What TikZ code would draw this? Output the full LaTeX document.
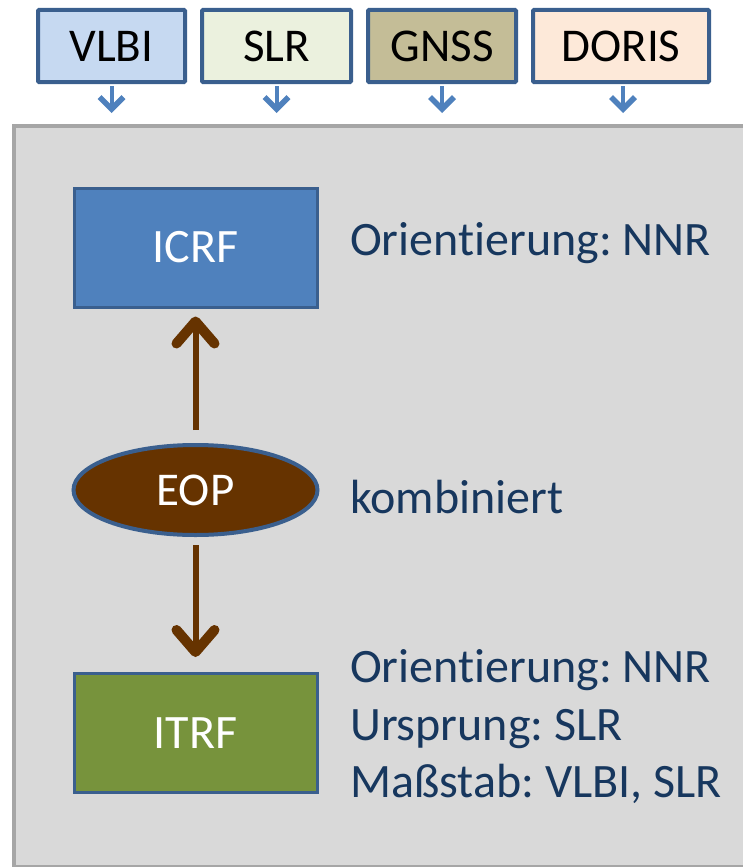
\documentclass[tikz,border=0pt]{standalone}
\usepackage{fontspec}
\setmainfont{Carlito}[Ligatures={NoCommon}]
\usetikzlibrary{shapes.geometric,arrows.meta}
\definecolor{boxborder}{HTML}{3A5F8E}
\definecolor{vlbifill}{HTML}{C6D9F1}
\definecolor{slrfill}{HTML}{EBF1DE}
\definecolor{gnssfill}{HTML}{C4BD97}
\definecolor{dorisfill}{HTML}{FDE9D9}
\definecolor{arrowblue}{HTML}{4F81BD}
\definecolor{panelfill}{HTML}{D9D9D9}
\definecolor{panelborder}{HTML}{A6A6A6}
\definecolor{icrffill}{HTML}{4F81BD}
\definecolor{itrffill}{HTML}{77933C}
\definecolor{eopfill}{HTML}{663300}
\definecolor{textblue}{HTML}{17375E}
\tikzset{
  techbox/.style={draw=boxborder, line width=4pt, rounded corners=1pt, minimum height=72pt, inner sep=0pt, font=\fontsize{47}{54}\selectfont, text=black},
  inbox/.style={draw=boxborder, line width=3pt, minimum width=243pt, minimum height=119pt, inner sep=0pt, font=\fontsize{48}{54}\selectfont, text=white},
  feed/.style={draw=arrowblue, line width=4pt, -{Straight Barb[length=12pt,width=24pt,line width=5.5pt]}},
  eoparrow/.style={draw=eopfill, line width=6pt, -{Straight Barb[length=22pt,width=38pt,line width=10pt,round]}},
  label/.style={anchor=west, inner sep=0pt, text=textblue, font=\fontsize{48}{57.5}\selectfont\frenchspacing, align=left}
}
\begin{document}
\begin{tikzpicture}[x=1pt,y=-1pt]
\useasboundingbox (0,0) rectangle (743,867);
\clip (0,0) rectangle (743,867);
% panel
\node[draw=panelborder, fill=panelfill, line width=4pt, minimum width=760pt, minimum height=741pt, inner sep=0pt, anchor=north west] (panel) at (12,124) {};
% technique boxes
\node[techbox, fill=vlbifill, minimum width=147pt] (vlbi) at (111.5,46) {VLBI};
\node[techbox, fill=slrfill, minimum width=149pt] (slr) at (276.5,46) {SLR};
\node[techbox, fill=gnssfill, minimum width=148pt] (gnss) at (442,46) {GNSS};
\node[techbox, fill=dorisfill, minimum width=176pt] (doris) at (621,46) {DORIS};
\foreach \n/\x in {vlbi/111.5, slr/276.5, gnss/442, doris/623}{
  \coordinate (\n-end) at (\x,113);
  \draw[feed] (\n.south -| \n-end) ++(0,2) -- (\n-end);
}
% inner nodes
\node[inbox, fill=icrffill] (icrf) at (195.5,247.5) {ICRF};
\node[ellipse, draw=boxborder, line width=4pt, fill=eopfill, minimum width=244pt, minimum height=90pt, inner sep=0pt, text=white, font=\fontsize{47}{54}\selectfont] (eop) at (195.5,490) {EOP};
\node[inbox, fill=itrffill] (itrf) at (195.5,733) {ITRF};
\coordinate (eopt) at (195.5,430);
\coordinate (eopb) at (195.5,545);
\draw[eoparrow, shorten >=8pt] (eopt) -- (icrf.south);
\draw[eoparrow, shorten >=15pt] (eopb) -- (itrf.north);
% labels
\node[label] (l1) at (350,243) {Orientierung: NNR};
\node[label] (l2) at (350,497) {kombiniert};
\node[label] (l3) at (350,727) {Orientierung: NNR\\Ursprung: SLR\\Maßstab: VLBI, SLR};
\end{tikzpicture}
\end{document}
